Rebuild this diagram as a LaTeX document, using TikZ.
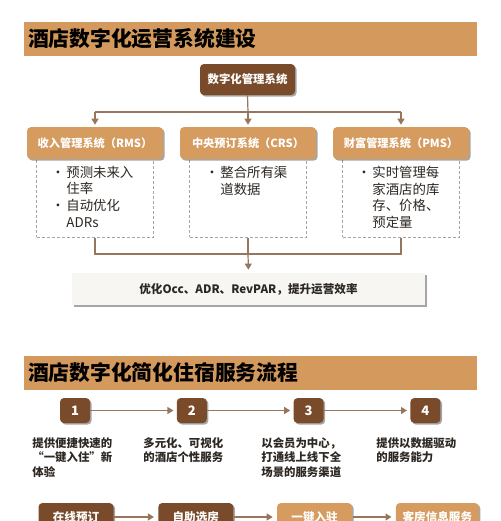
\documentclass[tikz,border=0pt]{standalone}
\usepackage{fontspec}
\setmainfont{Noto Sans CJK SC}
\usepackage{xcolor}
\usepackage{tikz}
\usetikzlibrary{shadows, arrows.meta, positioning}
\definecolor{titletan}{RGB}{212, 153, 92}
\definecolor{hdrtan}{RGB}{213, 155, 95}
\definecolor{darkbrown}{RGB}{122, 75, 42}
\definecolor{linebrown}{RGB}{150, 118, 92}
\definecolor{dashgray}{RGB}{165, 165, 165}
\definecolor{resultbg}{RGB}{248, 246, 242}
\definecolor{textdark}{RGB}{45, 40, 35}
\newcommand{\bul}{\makebox[7.5pt][l]{•}}
\newcommand{\ind}{\hspace*{7.5pt}}

\begin{document}
\begin{tikzpicture}[x=0.5pt, y=-0.5pt, >={Triangle[width=3.5pt, length=3pt]},
    every node/.style={font=\fontsize{6}{8}\selectfont},
    shade/.style={drop shadow={shadow xshift=0.8pt, shadow yshift=-0.8pt, opacity=0.35, fill=black}},
    titlebar/.style={fill=titletan, minimum height=14pt, text width=222.5pt, inner xsep=2pt, align=left, font=\fontsize{10.4}{12}\selectfont\bfseries},
    hdr/.style={shade, fill=hdrtan, rounded corners=2pt, minimum width=68pt, minimum height=16pt, text=white, font=\fontsize{5.6}{7}\selectfont\bfseries},
    listbox/.style={draw=dashgray, dash pattern=on 1.5pt off 1pt, line width=0.5pt, minimum width=58.5pt, minimum height=39.5pt},
    listtext/.style={inner sep=0pt, align=left, text=textdark, font=\fontsize{6.7}{8.4}\selectfont},
    conn/.style={draw=linebrown, line width=0.6pt},
    stepbox/.style={shade, fill=darkbrown, rounded corners=2pt, minimum width=15pt, minimum height=12.5pt, text=white, font=\fontsize{6.5}{8}\selectfont\bfseries},
    desc/.style={inner sep=0pt, align=left, text=textdark, font=\fontsize{5.7}{7.25}\selectfont\bfseries},
    flowbox/.style={shade, rounded corners=2pt, minimum width=37.5pt, minimum height=14pt, text=white, font=\fontsize{5.8}{7}\selectfont\bfseries}]

    \useasboundingbox (0,0) rectangle (500,521);
    \clip (0,0) rectangle (500,521);
    \fill[white] (0,0) rectangle (500,521);

    % operation system
    \node[titlebar] (t1) at (250.5,39) {酒店数字化运营系统建设};
    \node[shade, fill=darkbrown, rounded corners=2pt, minimum width=47.5pt, minimum height=15.5pt, text=white, font=\fontsize{5.7}{7}\selectfont\bfseries] (mgmt) at (247.5,79.5) {数字化管理系统};

    \node[listbox] (rmsbox) at (95,197.5) {};
    \node[listbox] (crsbox) at (248,197.5) {};
    \node[listbox] (pmsbox) at (401,197.5) {};
    \node[hdr, above=-1pt of rmsbox] (rms) {收入管理系统（RMS）};
    \node[hdr, above=-1pt of crsbox] (crs) {中央预订系统（CRS）};
    \node[hdr, above=-1pt of pmsbox] (pms) {财富管理系统（PMS）};

    \node[listtext, anchor=north west] (rmstxt) at ([xshift=7.5pt, yshift=-4pt]rmsbox.north west) {\bul 预测未来入\\\ind 住率\\\bul 自动优化\\\ind ADRs};
    \node[listtext, anchor=north west] (crstxt) at ([xshift=8pt, yshift=-4pt]crsbox.north west) {\bul 整合所有渠\\\ind 道数据};
    \node[listtext, anchor=north west] (pmstxt) at ([xshift=7.5pt, yshift=-4pt]pmsbox.north west) {\bul 实时管理每\\\ind 家酒店的库\\\ind 存、价格、\\\ind 预定量};

    \node[shade, fill=resultbg, minimum width=176.5pt, minimum height=16pt, text=textdark, font=\fontsize{5.8}{7}\selectfont\bfseries] (result) at (248.5,289) {优化Occ、ADR、RevPAR，提升运营效率};

    \coordinate (split) at (248,112);
    \draw[conn] (mgmt.south) -- (split);
    \draw[conn] (split -| rms.north) -- (split -| pms.north);
    \draw[conn, ->, shorten >=1pt] (split -| rms.north) -- (rms.north);
    \draw[conn, ->, shorten >=1pt] (split) -- (crs.north);
    \draw[conn, ->, shorten >=1pt] (split -| pms.north) -- (pms.north);

    \coordinate (join) at (248,254);
    \draw[conn] (rmsbox.south) -- (rmsbox.south |- join) -- (pmsbox.south |- join) -- (pmsbox.south);
    \draw[conn] (crsbox.south) -- (join);
    \draw[conn, ->, shorten >=1.5pt] (join) -- (result.north);

    % stay service flow
    \node[titlebar] (t2) at (250.5,373) {酒店数字化简化住宿服务流程};

    \node[stepbox] (s1) at (75,410.5) {1};
    \node[stepbox, right=43pt of s1] (s2) {2};
    \node[stepbox, right=43pt of s2] (s3) {3};
    \node[stepbox, right=43pt of s3] (s4) {4};
    \draw[conn, ->, shorten >=1.5pt] (s1) -- (s2);
    \draw[conn, ->, shorten >=1.5pt] (s2) -- (s3);
    \draw[conn, ->, shorten >=1.5pt] (s3) -- (s4);

    \node[desc, anchor=north west] (d1) at (32,437) {提供便捷快速的\\“一键入住”新\\体验};
    \node[desc, anchor=north west] (d2) at (143,437) {多元化、可视化\\的酒店个性服务};
    \node[desc, anchor=north west] (d3) at (261,437) {以会员为中心，\\打通线上线下全\\场景的服务渠道};
    \node[desc, anchor=north west] (d4) at (376,437) {提供以数据驱动\\的服务能力};

    \node[flowbox, fill=darkbrown] (f1) at (76,517) {在线预订};
    \node[flowbox, fill=darkbrown, right=22pt of f1] (f2) {自助选房};
    \node[flowbox, fill=hdrtan, right=21.5pt of f2] (f3) {一键入驻};
    \node[flowbox, fill=hdrtan, right=21.5pt of f3] (f4) {客房信息服务};
    \draw[conn, ->, shorten >=2pt] (f1) -- (f2);
    \draw[conn, ->, shorten >=2pt] (f2) -- (f3);
    \draw[conn, ->, shorten >=2pt] (f3) -- (f4);
\end{tikzpicture}
\end{document}
